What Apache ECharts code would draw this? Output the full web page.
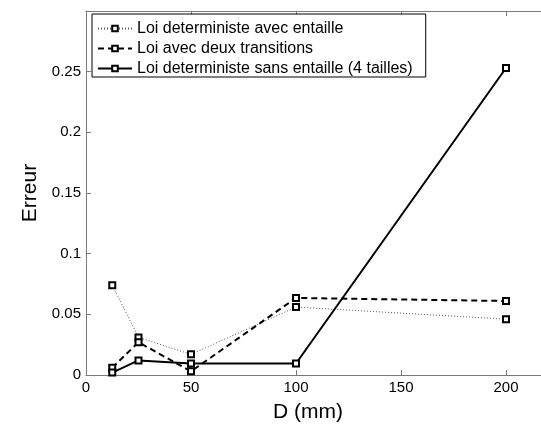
<!DOCTYPE html>
<html>
<head>
<meta charset="utf-8">
<script src="https://cdn.jsdelivr.net/npm/echarts@6/dist/echarts.min.js"></script>
<style>
  html, body { margin: 0; padding: 0; background: #fff; }
  #chart { width: 541px; height: 432px; }
</style>
</head>
<body>
<div id="chart"></div>
<script>
// Notch diameter D (mm) and the error of each law
const diameters = [12.5, 25, 50, 100, 200];
const loiAvecEntaille = [0.074, 0.031, 0.017, 0.056, 0.046];
const loiDeuxTransitions = [0.006, 0.027, 0.003, 0.0635, 0.061];
const loiSansEntaille = [0.002, 0.012, 0.0095, 0.0095, 0.253];

const seriesNames = [
  'Loi deterministe avec entaille',
  'Loi avec deux transitions',
  'Loi deterministe sans entaille (4 tailles)'
];

const FONT = '"Liberation Sans", Arial, Helvetica, sans-serif';
const AXIS_GREY = '#7a7a7a';

function pairs(values) {
  return diameters.map((d, i) => [d, values[i]]);
}

const markerStyle = { color: '#fff', borderColor: '#000', borderWidth: 2 };

function lineSeries(name, values, lineStyle) {
  return {
    name: name,
    type: 'line',
    data: pairs(values),
    symbol: 'rect',
    symbolSize: 6,
    showAllSymbol: true,
    itemStyle: markerStyle,
    lineStyle: lineStyle,
    emphasis: { disabled: true },
    animation: false,
    z: 3
  };
}

const chart = echarts.init(document.getElementById('chart'), null, { renderer: 'canvas' });

const frameTicks = { show: true, inside: true, length: 5, lineStyle: { color: AXIS_GREY, width: 1 } };

chart.setOption({
  backgroundColor: '#fff',
  animation: false,
  // the axes box runs a little past the right edge of the page
  grid: { left: 86, top: 11, width: 462, height: 364, containLabel: false, outerBoundsMode: 'none' },
  legend: {
    orient: 'vertical',
    left: 92,
    top: 14,
    padding: [6, 13, 0, 5],
    itemGap: 3,
    itemWidth: 34,
    itemHeight: 7,
    borderColor: '#000',
    borderWidth: 1,
    backgroundColor: '#fff',
    textStyle: { fontFamily: FONT, fontSize: 16, lineHeight: 17, color: '#000' },
    data: seriesNames
  },
  xAxis: [
    {
      type: 'value',
      position: 'bottom',
      min: 0,
      max: 220,
      interval: 50,
      name: 'D (mm)',
      nameLocation: 'middle',
      nameGap: 27,
      nameTextStyle: { fontFamily: FONT, fontSize: 21, color: '#000', padding: [0, 18, 0, 0] },
      axisLine: { show: true, lineStyle: { color: AXIS_GREY, width: 1 } },
      axisTick: frameTicks,
      axisLabel: { fontFamily: FONT, fontSize: 15, color: '#000', margin: 5, showMaxLabel: false },
      splitLine: { show: false }
    },
    {
      type: 'value',
      position: 'top',
      min: 0,
      max: 220,
      interval: 50,
      axisLine: { show: true, lineStyle: { color: AXIS_GREY, width: 1 } },
      axisTick: frameTicks,
      axisLabel: { show: false },
      splitLine: { show: false }
    }
  ],
  yAxis: [
    {
      type: 'value',
      min: 0,
      max: 0.3,
      interval: 0.05,
      name: 'Erreur',
      nameLocation: 'middle',
      nameGap: 27,
      nameTextStyle: { fontFamily: FONT, fontSize: 21, color: '#000' },
      axisLine: { show: true, lineStyle: { color: AXIS_GREY, width: 1 } },
      axisTick: frameTicks,
      axisLabel: { fontFamily: FONT, fontSize: 15, color: '#000', margin: 5, showMaxLabel: false },
      splitLine: { show: false }
    }
  ],
  series: [
    lineSeries(seriesNames[0], loiAvecEntaille, { color: '#555', width: 1, type: [1, 2] }),
    lineSeries(seriesNames[1], loiDeuxTransitions, { color: '#000', width: 2, type: [6, 4] }),
    lineSeries(seriesNames[2], loiSansEntaille, { color: '#000', width: 2, type: 'solid' })
  ]
});
</script>
</body>
</html>
